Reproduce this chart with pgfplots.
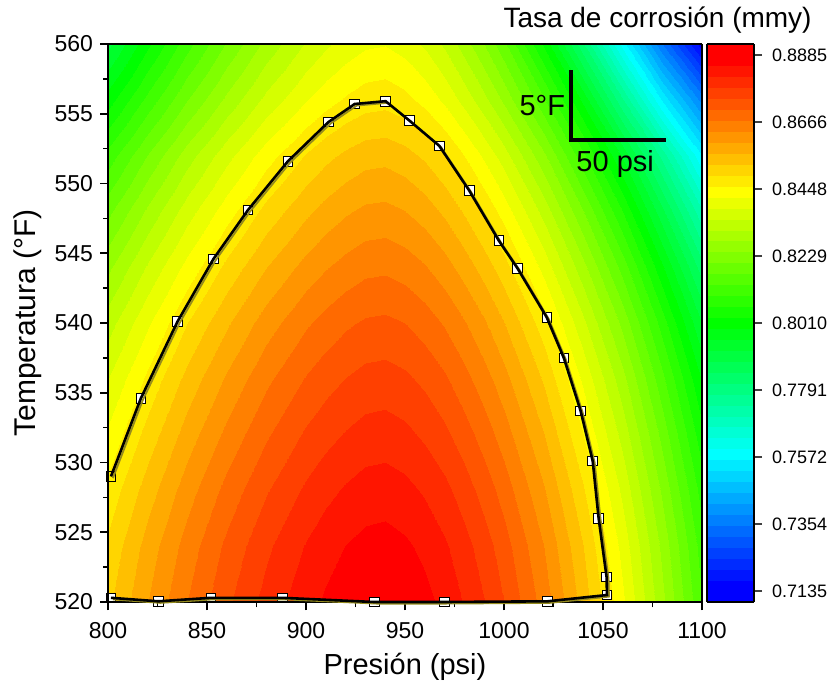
\documentclass[border=0pt]{standalone}
\usepackage{fontspec}
\setmainfont{Liberation Sans}
\usepackage{pgfplots}
\pgfplotsset{compat=1.18}
\pgfplotsset{colormap={bands}{
rgb255=(0,0,255) rgb255=(0,0,255) rgb255=(0,21,255) rgb255=(0,43,255) rgb255=(0,64,255) rgb255=(0,85,255) rgb255=(0,106,255) rgb255=(0,128,255) rgb255=(0,149,255) rgb255=(0,170,255) rgb255=(0,191,255) rgb255=(0,213,255) rgb255=(0,234,255) rgb255=(0,255,255)
rgb255=(0,255,234) rgb255=(0,255,213) rgb255=(0,255,191) rgb255=(0,255,170) rgb255=(0,255,149) rgb255=(0,255,128) rgb255=(0,255,106) rgb255=(0,255,85) rgb255=(0,255,64) rgb255=(0,255,43) rgb255=(0,255,21) rgb255=(0,255,0)
rgb255=(21,255,0) rgb255=(43,255,0) rgb255=(64,255,0) rgb255=(85,255,0) rgb255=(106,255,0) rgb255=(128,255,0) rgb255=(149,255,0) rgb255=(170,255,0) rgb255=(191,255,0) rgb255=(213,255,0) rgb255=(234,255,0) rgb255=(255,255,0)
rgb255=(255,234,0) rgb255=(255,213,0) rgb255=(255,191,0) rgb255=(255,170,0) rgb255=(255,149,0) rgb255=(255,128,0) rgb255=(255,106,0) rgb255=(255,85,0) rgb255=(255,64,0) rgb255=(255,43,0) rgb255=(255,21,0) rgb255=(255,0,0)
rgb255=(255,0,0)
}}
% corrosion rate grid: rows T = 520..560 (step 4), columns P
\pgfplotstableread{
P T Z
800 520 0.8520
820 520 0.8600
840 520 0.8671
860 520 0.8736
880 520 0.8791
900 520 0.8837
910 520 0.8856
920 520 0.8871
930 520 0.8881
940 520 0.8884
950 520 0.8876
960 520 0.8861
970 520 0.8839
980 520 0.8812
990 520 0.8780
1000 520 0.8743
1020 520 0.8655
1040 520 0.8549
1060 520 0.8427
1080 520 0.8289
1100 520 0.8136
800 524 0.8500
820 524 0.8580
840 524 0.8651
860 524 0.8716
880 524 0.8771
900 524 0.8817
910 524 0.8836
920 524 0.8851
930 524 0.8861
940 524 0.8864
950 524 0.8856
960 524 0.8841
970 524 0.8819
980 524 0.8792
990 524 0.8760
1000 524 0.8723
1020 524 0.8635
1040 524 0.8529
1060 524 0.8407
1080 524 0.8269
1100 524 0.8116
800 528 0.8468
820 528 0.8547
840 528 0.8619
860 528 0.8684
880 528 0.8739
900 528 0.8785
910 528 0.8804
920 528 0.8819
930 528 0.8830
940 528 0.8833
950 528 0.8825
960 528 0.8809
970 528 0.8788
980 528 0.8761
990 528 0.8728
1000 528 0.8691
1020 528 0.8603
1040 528 0.8497
1060 528 0.8375
1080 528 0.8236
1100 528 0.8082
800 532 0.8428
820 532 0.8508
840 532 0.8581
860 532 0.8646
880 532 0.8702
900 532 0.8749
910 532 0.8767
920 532 0.8782
930 532 0.8793
940 532 0.8796
950 532 0.8788
960 532 0.8772
970 532 0.8751
980 532 0.8724
990 532 0.8691
1000 532 0.8654
1020 532 0.8565
1040 532 0.8458
1060 532 0.8335
1080 532 0.8195
1100 532 0.8040
800 536 0.8385
820 536 0.8466
840 536 0.8540
860 536 0.8606
880 536 0.8663
900 536 0.8710
910 536 0.8729
920 536 0.8744
930 536 0.8755
940 536 0.8758
950 536 0.8750
960 536 0.8734
970 536 0.8712
980 536 0.8684
990 536 0.8651
1000 536 0.8613
1020 536 0.8523
1040 536 0.8414
1060 536 0.8289
1080 536 0.8146
1100 536 0.7989
800 540 0.8333
820 540 0.8416
840 540 0.8492
860 540 0.8559
880 540 0.8618
900 540 0.8666
910 540 0.8685
920 540 0.8701
930 540 0.8712
940 540 0.8715
950 540 0.8707
960 540 0.8690
970 540 0.8667
980 540 0.8639
990 540 0.8605
1000 540 0.8565
1020 540 0.8472
1040 540 0.8359
1060 540 0.8230
1080 540 0.8083
1100 540 0.7920
800 544 0.8269
820 544 0.8355
840 544 0.8433
860 544 0.8503
880 544 0.8563
900 544 0.8613
910 544 0.8633
920 544 0.8649
930 544 0.8661
940 544 0.8664
950 544 0.8655
960 544 0.8638
970 544 0.8614
980 544 0.8584
990 544 0.8548
1000 544 0.8507
1020 544 0.8408
1040 544 0.8290
1060 544 0.8154
1080 544 0.7999
1100 544 0.7828
800 548 0.8196
820 548 0.8286
840 548 0.8368
860 548 0.8441
880 548 0.8504
900 548 0.8556
910 548 0.8578
920 548 0.8595
930 548 0.8607
940 548 0.8610
950 548 0.8600
960 548 0.8582
970 548 0.8556
980 548 0.8524
990 548 0.8485
1000 548 0.8441
1020 548 0.8335
1040 548 0.8208
1060 548 0.8061
1080 548 0.7895
1100 548 0.7711
800 552 0.8114
820 552 0.8210
840 552 0.8297
860 552 0.8374
880 552 0.8441
900 552 0.8496
910 552 0.8519
920 552 0.8537
930 552 0.8550
940 552 0.8553
950 552 0.8542
960 552 0.8522
970 552 0.8494
980 552 0.8458
990 552 0.8415
1000 552 0.8367
1020 552 0.8250
1040 552 0.8110
1060 552 0.7949
1080 552 0.7767
1100 552 0.7564
800 556 0.8010
820 556 0.8112
840 556 0.8205
860 556 0.8288
880 556 0.8360
900 556 0.8419
910 556 0.8443
920 556 0.8462
930 556 0.8476
940 556 0.8480
950 556 0.8468
960 556 0.8445
970 556 0.8413
980 556 0.8373
990 556 0.8325
1000 556 0.8270
1020 556 0.8140
1040 556 0.7983
1060 556 0.7780
1080 556 0.7560
1100 556 0.7369
800 560 0.7909
820 560 0.8020
840 560 0.8121
860 560 0.8211
880 560 0.8289
900 560 0.8353
910 560 0.8379
920 560 0.8400
930 560 0.8415
940 560 0.8419
950 560 0.8405
960 560 0.8379
970 560 0.8342
980 560 0.8296
990 560 0.8242
1000 560 0.8179
1020 560 0.8020
1040 560 0.7820
1060 560 0.7580
1080 560 0.7350
1100 560 0.7146
}\corrosion
\pgfplotstableread{
P T Z
801.5 529.0 0.9
816.6 534.6 0.9
835.1 540.1 0.9
853.3 544.6 0.9
870.7 548.1 0.9
890.9 551.6 0.9
911.3 554.4 0.9
924.6 555.7 0.9
940.2 555.9 0.9
952.3 554.5 0.9
967.3 552.7 0.9
982.4 549.5 0.9
997.4 545.9 0.9
1006.9 543.9 0.9
1021.6 540.4 0.9
1030.2 537.5 0.9
1038.7 533.7 0.9
1044.8 530.1 0.9
1047.8 526.0 0.9
1051.8 521.8 0.9
1052.0 520.5 0.9
1022.0 520.05 0.9
970.0 520.0 0.9
934.5 520.0 0.9
888.0 520.3 0.9
852.0 520.3 0.9
825.4 520.05 0.9
801.5 520.3 0.9
}\boundary
\begin{document}
\begin{tikzpicture}
\begin{axis}[
  at={(0,0)}, anchor=south west,
  set layers, axis on top, clip=false,
  view={0}{90},
  width=297bp, height=279bp, scale only axis,
  xmin=800, xmax=1100, ymin=520, ymax=560,
  xtick={800,850,...,1100}, ytick={520,525,...,560}, ztick=\empty,
  minor x tick num=1, minor y tick num=1,
  tick align=outside, xtick pos=left, ytick pos=left,
  major tick length=4bp, minor tick length=2.5bp,
  every tick/.style={black, line width=0.8bp},
  axis line style={black, line width=1bp},
  /pgf/number format/assume math mode=true,
  /pgf/number format/1000 sep={},
  tick label style={font=\fontsize{11.5bp}{13bp}\selectfont, black},
  xticklabel style={yshift=-2.5bp},
  every axis x label/.style={at={(axis description cs:0.5,-0.1165)}, anchor=center, font=\fontsize{14.5bp}{16bp}\selectfont},
  every axis y label/.style={at={(axis description cs:-0.1347,0.5)}, anchor=center, rotate=90, font=\fontsize{15bp}{16bp}\selectfont},
  xlabel={Presión (psi)},
  ylabel={Temperatura (°F)},
  colormap name=bands, colormap access=piecewise constant,
  point meta min=0.70985, point meta max=0.89215,
  colorbar,
  colorbar/width=23.5bp,
  colorbar style={
    at={(parent axis.north east)}, anchor=north west, xshift=-6bp,
    width=23.5bp,
    xlabel={}, ylabel={},
    ytick={0.7135,0.735375,0.75725,0.779125,0.801,0.822875,0.84475,0.866625,0.8885},
    yticklabels={0.7135,0.7354,0.7572,0.7791,0.8010,0.8229,0.8448,0.8666,0.8885},
    minor y tick num=0,
    ytick pos=right, yticklabel pos=right, tick align=outside,
    major tick length=4bp,
    every tick/.style={black!75, line width=0.8bp},
    axis line style={black, line width=0.8bp},
    yticklabel style={font=\fontsize{9bp}{10bp}\selectfont, black, xshift=1.5bp},
    /pgf/number format/assume math mode=true,
  },
]
\addplot3[surf, shader=interp, mesh/cols=21] table[x=P, y=T, z=Z] {\corrosion};
\addplot3[on layer=axis foreground, color={rgb,255:red,150;green,140;blue,30}, line width=0.9bp, xshift=1bp, yshift=-0.8bp, no marks] table[x=P, y=T, z=Z] {\boundary};
\addplot3[on layer=axis foreground, black, line width=1.3bp, mark=square*, mark size=2.4bp, mark options={fill=white, draw=black, line width=0.45bp, solid}] table[x=P, y=T, z=Z] {\boundary};
\addplot3[on layer=axis foreground, only marks, mark=square*, mark size=2.4bp, mark options={fill=yellow, draw=black, line width=0.45bp}] coordinates {(801.5,529.0,0.9)};
\draw[black, line width=2bp] (axis cs:1033.8,558.1,0.9) -- (axis cs:1033.8,553.1,0.9) -- (axis cs:1081.8,553.1,0.9);
\node[anchor=east, inner sep=0pt, font=\fontsize{14.5bp}{16bp}\selectfont] at (axis cs:1031.0,555.6,0.9) {5°F};
\node[anchor=north west, inner sep=0pt, font=\fontsize{14.5bp}{16bp}\selectfont] at (axis cs:1036.4,552.4,0.9) {50 psi};
\end{axis}
\node[anchor=base east, inner sep=0pt, font=\fontsize{14bp}{16bp}\selectfont] at (352bp,287bp) {Tasa de corrosión (mmy)};
\pgfresetboundingbox
\path[use as bounding box] (-54bp,-43.5bp) rectangle (361bp,301bp);
\end{tikzpicture}
\end{document}
